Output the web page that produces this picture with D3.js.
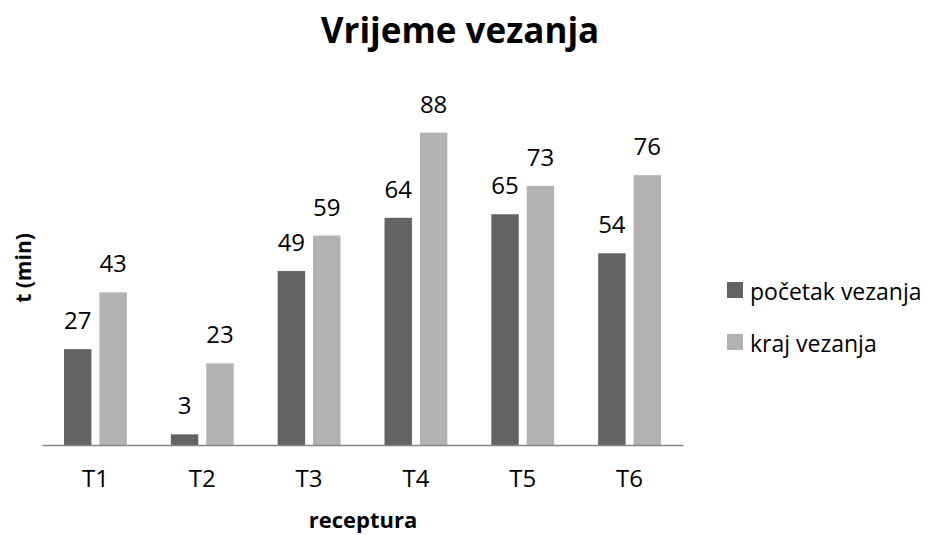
<!DOCTYPE html>
<html>
<head>
<meta charset="utf-8">
<script src="https://cdn.jsdelivr.net/npm/d3@7"></script>
<style>
  body { margin: 0; background: #fff; }
  text { font-family: "Open Sans", sans-serif; }
</style>
</head>
<body>
<div id="chart"></div>
<script>
// chart data
const categories = ["T1", "T2", "T3", "T4", "T5", "T6"];
const seriesNames = ["početak vezanja", "kraj vezanja"];
const pocetak = [27, 3, 49, 64, 65, 54];
const kraj = [43, 23, 59, 88, 73, 76];
const colors = ["#636363", "#b2b2b2"];

const width = 928, height = 535;

const svg = d3.select("#chart")
    .append("svg")
    .attr("width", width)
    .attr("height", height);

// scales
const x0 = d3.scaleBand()
    .domain(categories)
    .range([42, 683]);

const x1 = d3.scaleBand()
    .domain(seriesNames)
    .range([22, x0.bandwidth() - 22])
    .paddingInner(0.225);

const y = d3.scaleLinear()
    .domain([0, 100])
    .range([445, 90]);

const rows = categories.map((c, i) => ({
    cat: c,
    values: [
        { name: seriesNames[0], value: pocetak[i], color: colors[0] },
        { name: seriesNames[1], value: kraj[i], color: colors[1] }
    ]
}));

// bars
const groups = svg.selectAll(".group")
    .data(rows)
    .enter().append("g")
    .attr("class", "group")
    .attr("transform", d => `translate(${x0(d.cat)},0)`);

groups.selectAll("rect")
    .data(d => d.values)
    .enter().append("rect")
    .attr("x", d => x1(d.name))
    .attr("y", d => y(d.value))
    .attr("width", x1.bandwidth())
    .attr("height", d => y(0) - y(d.value))
    .attr("fill", d => d.color);

// value labels
groups.selectAll(".val")
    .data(d => d.values)
    .enter().append("text")
    .attr("class", "val")
    .attr("x", d => x1(d.name) + x1.bandwidth() / 2)
    .attr("y", d => y(d.value) - 20)
    .attr("text-anchor", "middle")
    .attr("font-size", 24)
    .attr("fill", "#000")
    .text(d => d.value);

// x axis
const xAxis = svg.append("g")
    .attr("transform", `translate(0,${y(0)})`)
    .call(d3.axisBottom(x0).tickSize(0).tickPadding(25));
xAxis.select(".domain").attr("stroke", "#868686").attr("stroke-width", 1.5);
xAxis.selectAll("text")
    .attr("font-size", 24)
    .attr("fill", "#000")
    .style("font-family", "Open Sans, sans-serif");

// title
svg.append("text")
    .attr("x", 460)
    .attr("y", 43)
    .attr("text-anchor", "middle")
    .attr("font-size", 35)
    .attr("font-weight", "bold")
    .text("Vrijeme vezanja");

// axis titles
svg.append("text")
    .attr("x", 363)
    .attr("y", 528)
    .attr("text-anchor", "middle")
    .attr("font-size", 22)
    .attr("font-weight", "bold")
    .text("receptura");

svg.append("text")
    .attr("transform", "translate(31,268) rotate(-90)")
    .attr("text-anchor", "middle")
    .attr("font-size", 21)
    .attr("font-weight", "bold")
    .text("t (min)");

// legend
const legend = svg.selectAll(".legend")
    .data(seriesNames)
    .enter().append("g")
    .attr("class", "legend")
    .attr("transform", (d, i) => `translate(727,${282 + i * 52})`);

legend.append("rect")
    .attr("width", 16)
    .attr("height", 16)
    .attr("fill", (d, i) => colors[i]);

legend.append("text")
    .attr("x", 23)
    .attr("y", 18)
    .attr("font-size", 23)
    .attr("fill", "#000")
    .text(d => d);
</script>
</body>
</html>
